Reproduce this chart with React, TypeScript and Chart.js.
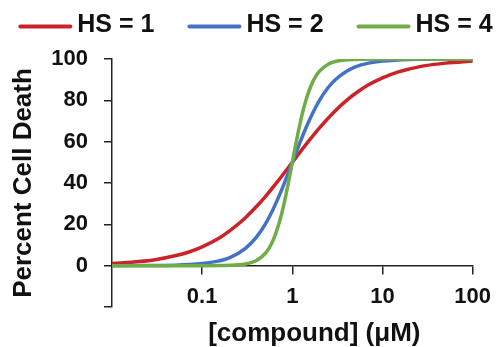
import { useEffect, useRef } from "react";
import { Chart, registerables } from "chart.js";

Chart.register(...registerables);

const SERIES_NAMES = ["HS = 1", "HS = 2", "HS = 4"];
const SERIES_COLORS = ["#CC2229", "#4472C4", "#70AD47"];

const HS1_X = [0.01, 0.02, 0.03, 0.05, 0.07, 0.1, 0.15, 0.2, 0.3, 0.4, 0.5, 0.7, 1, 1.5, 2, 3, 4, 5, 7, 10, 15, 20, 30, 50, 100];
const HS1_Y = [1.0, 2.0, 2.9, 4.8, 6.5, 9.1, 13.0, 16.7, 23.1, 28.6, 33.3, 41.2, 50, 60, 66.7, 75, 80, 83.3, 87.5, 90.9, 93.8, 95.2, 96.8, 98.0, 99.0];

const HS2_X = [0.01, 0.03, 0.05, 0.1, 0.15, 0.2, 0.3, 0.4, 0.5, 0.6, 0.7, 0.8, 0.9, 1, 1.2, 1.5, 2, 2.5, 3, 4, 5, 7, 10, 20, 50, 100];
const HS2_Y = [0, 0.1, 0.2, 1.0, 2.2, 3.8, 8.3, 13.8, 20, 26.5, 32.9, 39.0, 44.8, 50, 59.0, 69.2, 80, 86.2, 90, 94.1, 96.2, 98.0, 99.0, 99.8, 100, 100];

const HS4_X = [0.01, 0.1, 0.2, 0.3, 0.4, 0.5, 0.55, 0.6, 0.65, 0.7, 0.75, 0.8, 0.85, 0.9, 0.95, 1, 1.1, 1.2, 1.3, 1.4, 1.5, 1.7, 2, 2.5, 3, 5, 10, 100];
const HS4_Y = [0, 0, 0.16, 0.8, 2.5, 5.9, 8.4, 11.5, 15.1, 19.4, 24.0, 29.1, 34.3, 39.6, 44.9, 50, 59.4, 67.5, 74.1, 79.3, 83.5, 89.3, 94.1, 97.5, 98.8, 99.8, 100, 100];

const X_TICK_VALUES = [0.1, 1, 10, 100];
const X_TICK_LABELS = ["0.1", "1", "10", "100"];
const Y_TICK_VALUES = [-20, 0, 20, 40, 60, 80, 100];
const Y_TICK_LABELS = ["", "0", "20", "40", "60", "80", "100"];

const X_TITLE = "[compound] (\u03BCM)";
const Y_TITLE = "Percent Cell Death";

const FONT = "'Liberation Sans', Arial, sans-serif";
const TEXT_COLOR = "#111";
const AXIS_COLOR = "#222";

function toPoints(xs: number[], ys: number[]) {
  return xs.map((x, i) => ({ x, y: ys[i] }));
}

const overlayPlugin = {
  id: "overlayText",
  afterDraw(chart: any) {
    const ctx = chart.ctx as CanvasRenderingContext2D;
    ctx.save();
    // legend
    ctx.font = `bold 25px ${FONT}`;
    const lineLen = 54;
    const gap = 5;
    const spacing = 33;
    const ds = chart.data.datasets;
    const widths = ds.map((d: any) => ctx.measureText(d.label).width);
    const total =
      widths.reduce((a: number, w: number) => a + lineLen + gap + w, 0) +
      spacing * (widths.length - 1);
    let x = chart.width / 2 - total / 2 + 5;
    const y = 26.5;
    ds.forEach((d: any, i: number) => {
      ctx.strokeStyle = d.borderColor;
      ctx.lineWidth = 4;
      ctx.lineCap = "round";
      ctx.beginPath();
      ctx.moveTo(x + 2, y);
      ctx.lineTo(x + lineLen - 2, y);
      ctx.stroke();
      ctx.fillStyle = TEXT_COLOR;
      ctx.textBaseline = "middle";
      ctx.textAlign = "left";
      ctx.fillText(d.label, x + lineLen + gap, y - 1);
      x += lineLen + gap + widths[i] + spacing;
    });
    // x axis title
    ctx.font = `bold 26px ${FONT}`;
    ctx.textAlign = "center";
    ctx.textBaseline = "middle";
    const area = chart.chartArea;
    ctx.fillText(X_TITLE, (area.left + area.right) / 2 + 22, 334);
    ctx.restore();
  },
};

export default function App() {
  const canvasRef = useRef<HTMLCanvasElement | null>(null);

  useEffect(() => {
    document.body.style.margin = "0";
    const canvas = canvasRef.current;
    if (!canvas) return;
    const chart = new Chart(canvas, {
      type: "line",
      data: {
        datasets: [
          { label: SERIES_NAMES[0], data: toPoints(HS1_X, HS1_Y), borderColor: SERIES_COLORS[0] },
          { label: SERIES_NAMES[1], data: toPoints(HS2_X, HS2_Y), borderColor: SERIES_COLORS[1] },
          { label: SERIES_NAMES[2], data: toPoints(HS4_X, HS4_Y), borderColor: SERIES_COLORS[2] },
        ].map((d, i) => ({
          ...d,
          backgroundColor: d.borderColor,
          borderWidth: 3.5,
          pointRadius: 0,
          fill: false,
          cubicInterpolationMode: "monotone" as const,
          borderCapStyle: "round" as const,
          borderJoinStyle: "round" as const,
          order: 3 - i,
        })),
      },
      options: {
        animation: false,
        responsive: true,
        maintainAspectRatio: false,
        layout: { padding: { top: 59, right: 24, bottom: 40, left: 0 } },
        plugins: {
          legend: { display: false },
          tooltip: { enabled: false },
        },
        scales: {
          x: {
            type: "logarithmic",
            min: 0.01,
            max: 100,
            position: { y: 0 } as any,
            afterFit: (s: any) => {
              s.height = 40;
            },
            afterBuildTicks: (s: any) => {
              s.ticks = X_TICK_VALUES.map((v) => ({ value: v }));
            },
            ticks: {
              autoSkip: false,
              maxRotation: 0,
              padding: 10,
              color: TEXT_COLOR,
              font: { family: FONT, size: 22, weight: "bold" },
              callback: (v: any) => {
                const i = X_TICK_VALUES.indexOf(Number(v));
                return i >= 0 ? X_TICK_LABELS[i] : "";
              },
            },
            grid: {
              display: true,
              drawOnChartArea: false,
              drawTicks: true,
              tickLength: 8,
              color: AXIS_COLOR,
              lineWidth: 1.5,
            },
            border: { display: true, color: AXIS_COLOR, width: 1.5 },
          },
          y: {
            type: "linear",
            min: -20,
            max: 100,
            afterFit: (s: any) => {
              s.width = 112;
            },
            afterBuildTicks: (s: any) => {
              s.ticks = Y_TICK_VALUES.map((v) => ({ value: v }));
            },
            ticks: {
              padding: 16,
              color: TEXT_COLOR,
              font: { family: FONT, size: 22, weight: "bold" },
              callback: (v: any) => {
                const i = Y_TICK_VALUES.indexOf(Number(v));
                return i >= 0 ? Y_TICK_LABELS[i] : "";
              },
            },
            grid: {
              display: true,
              drawOnChartArea: false,
              drawTicks: true,
              tickLength: 8,
              color: AXIS_COLOR,
              lineWidth: 1.5,
            },
            border: { display: true, color: AXIS_COLOR, width: 1.5 },
            title: {
              display: true,
              text: Y_TITLE,
              color: TEXT_COLOR,
              font: { family: FONT, size: 26, weight: "bold" },
              padding: { top: 8, bottom: 0 },
            },
          },
        },
      },
      plugins: [overlayPlugin],
    });
    return () => chart.destroy();
  }, []);

  return (
    <div style={{ position: "relative", width: 501, height: 347 }}>
      <canvas ref={canvasRef} />
    </div>
  );
}
